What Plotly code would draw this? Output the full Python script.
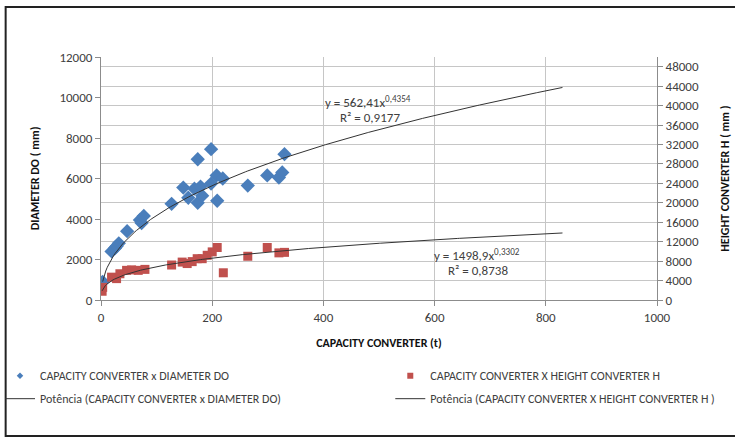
import numpy as np
import plotly.graph_objects as go

# Capacity (t) vs converter diameter DO (mm)
cap_diam = [3, 19, 25, 28, 32, 47, 70, 73, 77, 127, 148, 157, 168, 174, 174,
            179, 182, 198, 198, 208, 209, 219, 264, 299, 320, 326, 330]
diameter = [900, 2400, 2550, 2650, 2800, 3400, 3950, 3800, 4150, 4750, 5550,
            5050, 5500, 6950, 4800, 5600, 5150, 7450, 5750, 6150, 4900, 6000,
            5650, 6150, 6050, 6300, 7200]

# Capacity (t) vs converter height H (mm)
cap_height = [2, 3, 19, 28, 34, 46, 55, 67, 79, 127, 146, 155, 164, 173, 182,
              191, 200, 209, 220, 264, 299, 320, 330]
height = [1800, 2600, 4700, 4400, 5400, 6100, 6200, 6100, 6300, 7200, 7800,
          7500, 7900, 8500, 8500, 9200, 9900, 10800, 5600, 9000, 10800, 9700,
          9800]

# Power-law trendline coefficients (y = a * x^b)
diam_a, diam_b, diam_r2 = 562.41, 0.4354, 0.9177
height_a, height_b, height_r2 = 1498.9, 0.3302, 0.8738
trend_end = 830  # trendline forecast end (t)

font_family = "Carlito, Lato, sans-serif"
grid_col = "#c6c6c6"
axis_col = "#8c8c8c"
text_col = "#404040"
blue = "#4a7ebb"
red = "#c0504d"

name_diam = "CAPACITY CONVERTER x DIAMETER DO"
name_height = "CAPACITY CONVERTER X HEIGHT CONVERTER H"
name_diam_fit = "Potência (CAPACITY CONVERTER x DIAMETER DO)"
name_height_fit = "Potência (CAPACITY CONVERTER X HEIGHT CONVERTER H )"


def comma(v):
    return f"{v}".replace(".", ",")


x_d = np.linspace(min(cap_diam), trend_end, 300)
x_h = np.linspace(min(cap_height), trend_end, 300)

fig = go.Figure()
# plotted series
fig.add_trace(go.Scatter(
    x=cap_diam, y=diameter, mode="markers", name=name_diam, showlegend=False,
    marker=dict(symbol="diamond", size=11, color=blue),
))
fig.add_trace(go.Scatter(
    x=cap_height, y=height, mode="markers", yaxis="y2", name=name_height,
    showlegend=False, marker=dict(symbol="square", size=9, color=red),
))
fig.add_trace(go.Scatter(
    x=x_d, y=diam_a * x_d ** diam_b, mode="lines", name=name_diam_fit,
    showlegend=False, line=dict(color="#333333", width=1),
))
fig.add_trace(go.Scatter(
    x=x_h, y=height_a * x_h ** height_b, mode="lines", yaxis="y2",
    name=name_height_fit, showlegend=False,
    line=dict(color="#333333", width=1),
))

# legend entries with small symbols: left column and right column
fig.add_trace(go.Scatter(x=[None], y=[None], mode="markers", name=name_diam,
                         legend="legend", legendgroup="g1",
                         marker=dict(symbol="diamond", size=5, color=blue)))
fig.add_trace(go.Scatter(x=[None], y=[None], mode="lines", name=name_diam_fit,
                         legend="legend", legendgroup="g2",
                         line=dict(color="#333333", width=1)))
fig.add_trace(go.Scatter(x=[None], y=[None], mode="markers", name=name_height,
                         legend="legend2", legendgroup="g3",
                         marker=dict(symbol="square", size=6, color=red)))
fig.add_trace(go.Scatter(x=[None], y=[None], mode="lines", name=name_height_fit,
                         legend="legend2", legendgroup="g4",
                         line=dict(color="#333333", width=1)))

ann_font = dict(size=13, color=text_col, family=font_family)
fig.add_annotation(
    x=399, y=9827, xref="x", yref="y", xanchor="left", yanchor="middle",
    text="y = " + comma(diam_a) + "x<sup>" + comma(diam_b) + "</sup>",
    showarrow=False, font=ann_font,
)
fig.add_annotation(
    x=426, y=8988, xref="x", yref="y", xanchor="left", yanchor="middle",
    text="R² = " + comma(diam_r2), showarrow=False, font=ann_font,
)
fig.add_annotation(
    x=596, y=9436, xref="x", yref="y2", xanchor="left", yanchor="middle",
    text="y = " + comma(height_a) + "x<sup>" + comma(height_b) + "</sup>",
    showarrow=False, font=ann_font,
)
fig.add_annotation(
    x=620, y=6154, xref="x", yref="y2", xanchor="left", yanchor="middle",
    text="R² = " + comma(height_r2), showarrow=False, font=ann_font,
)

# Vertical axis titles
title_font = dict(size=12, color="#111111", family=font_family)
fig.add_annotation(
    x=-0.119, y=0.5, xref="paper", yref="paper", xanchor="center",
    yanchor="middle", textangle=-90, showarrow=False,
    text="<b>DIAMETER DO ( mm)</b>", font=title_font,
)
fig.add_annotation(
    x=1.121, y=0.5, xref="paper", yref="paper", xanchor="center",
    yanchor="middle", textangle=-90, showarrow=False,
    text="<b>HEIGHT CONVERTER H ( mm )</b>", font=title_font,
)

legend_common = dict(
    orientation="v", xref="container", yref="container",
    xanchor="left", y=0.181, yanchor="top", tracegroupgap=4,
    font=dict(size=12, color=text_col), bgcolor="rgba(0,0,0,0)",
)

fig.update_layout(
    width=735, height=441,
    margin=dict(l=101, r=78, t=57, b=141, autoexpand=False),
    paper_bgcolor="white", plot_bgcolor="white",
    font=dict(family=font_family, color=text_col, size=12),
    showlegend=True,
    xaxis=dict(
        range=[0, 1000], dtick=200, tick0=0,
        showgrid=True, gridcolor=grid_col, gridwidth=1,
        showline=True, linecolor=axis_col, linewidth=1,
        ticks="outside", ticklen=5, tickcolor=axis_col,
        zeroline=False,
        tickfont=dict(size=13, color=text_col),
        title=dict(text="<b>CAPACITY CONVERTER (t)</b>",
                   font=dict(size=12, color="#111111")),
    ),
    yaxis=dict(
        range=[0, 12000], dtick=2000, tick0=0, tickformat="d",
        showgrid=False, zeroline=False,
        showline=True, linecolor=axis_col, linewidth=1,
        ticks="outside", ticklen=5, tickcolor=axis_col,
        tickfont=dict(size=13, color=text_col),
    ),
    yaxis2=dict(
        overlaying="y", side="right",
        range=[0, 50000], dtick=4000, tick0=0, tickformat="d",
        showgrid=True, gridcolor=grid_col, gridwidth=1,
        zeroline=False,
        showline=True, linecolor=axis_col, linewidth=1,
        ticks="outside", ticklen=5, tickcolor=axis_col,
        tickfont=dict(size=13, color=text_col),
    ),
    legend=dict(x=0.0, **legend_common),
    legend2=dict(x=0.531, **legend_common),
)

# Outer chart frame
fig.add_shape(
    type="rect", xref="paper", yref="paper",
    x0=-0.1715, x1=1.2, y0=-0.56, y1=1.206,
    line=dict(color="#222222", width=2), fillcolor="rgba(0,0,0,0)", layer="below",
)

fig.write_html("out.html")
